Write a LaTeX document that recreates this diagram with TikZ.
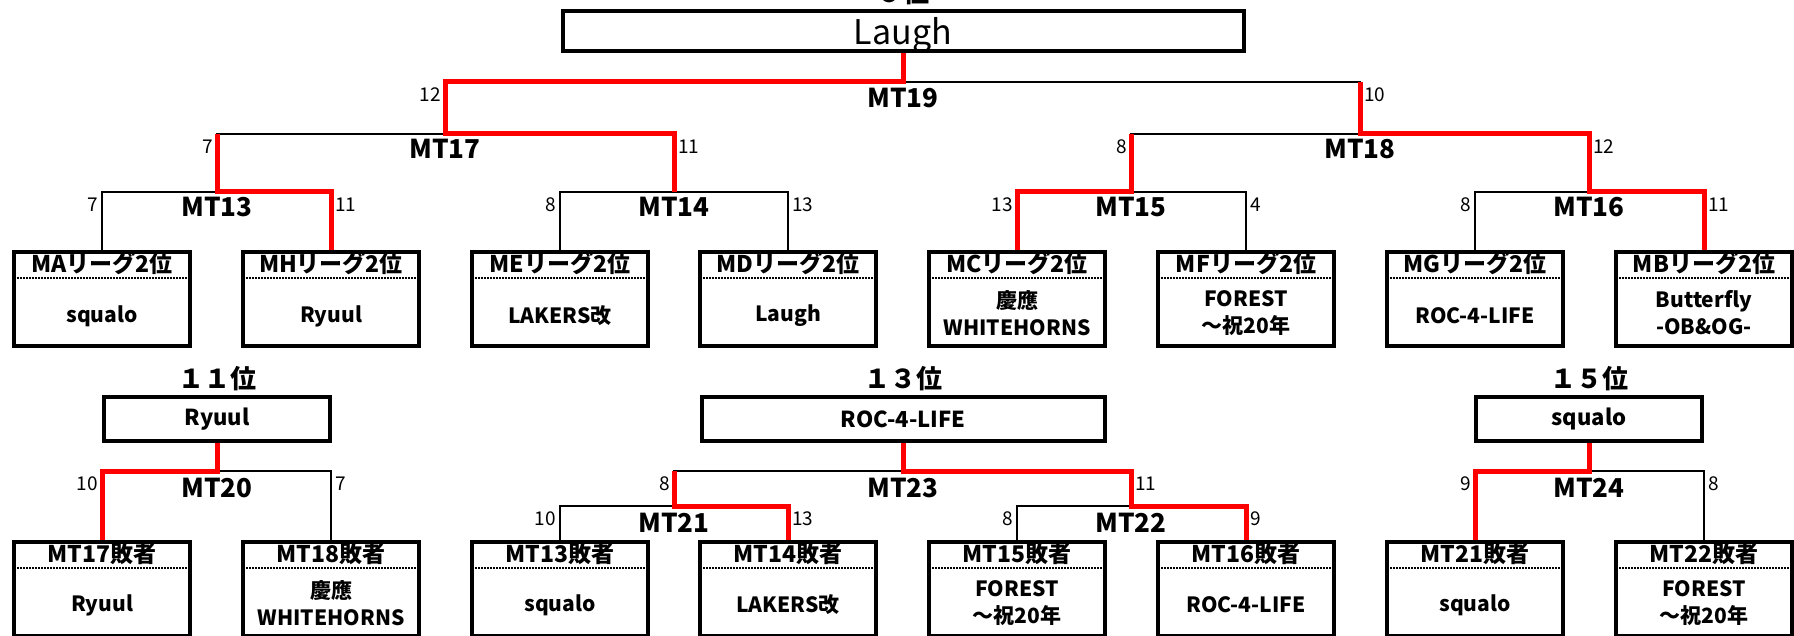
\documentclass[tikz,border=0pt]{standalone}
\usepackage{fontspec}
\setmainfont{Noto Sans CJK JP}
\begin{document}
\begin{tikzpicture}[x=1pt,y=-1pt,line join=miter,
    squadra/.style={draw,line width=4pt,minimum width=176pt,minimum height=94pt,inner sep=0pt,
      path picture={\draw[sep] ([yshift=-26pt]path picture bounding box.north west)
                              -- ([yshift=-26pt]path picture bounding box.north east);}},
    vinto/.style={draw,line width=4pt,minimum height=44pt,inner sep=0pt,
      font=\bfseries\fontsize{22}{26}\selectfont},
    sep/.style={line width=2pt,dash pattern=on 1.5pt off 1.5pt},
    testa/.style={inner sep=0pt,font=\bfseries\fontsize{23}{26}\selectfont},
    nome/.style={inner sep=0pt,align=center,font=\bfseries\fontsize{21}{27}\selectfont},
    riga/.style={line width=1.6pt},
    rosso/.style={line width=5pt,red},
    partita/.style={inner sep=0pt,font=\bfseries\fontsize{26}{30}\selectfont},
    punti/.style={inner sep=0pt,font=\fontsize{19}{22}\selectfont},
    posto/.style={inner sep=0pt,anchor=south,font=\bfseries\fontsize{26}{30}\selectfont}]

  \path[use as bounding box,clip] (0,0) rectangle (1794,636);

  % ======================= tabellone superiore ===================
  \node[posto] (p9) at (903,5) {９位};
  \node[draw,line width=4pt,minimum width=681pt,minimum height=40pt,inner sep=0pt,
        text depth=0pt,font=\fontsize{34}{40}\selectfont] (laugh) at (903,31) {Laugh};

  \coordinate (m19) at ( 903, 82);
  \coordinate (m17) at ( 445,134);
  \coordinate (m18) at (1360,134);
  \coordinate (m13) at ( 217,192);
  \coordinate (m14) at ( 674,192);
  \coordinate (m15) at (1131,192);
  \coordinate (m16) at (1589,192);

  % squadre del primo turno
  \node[squadra] (mA) at ( 102,299) {};
  \node[squadra] (mH) at ( 331,299) {};
  \node[squadra] (mE) at ( 560,299) {};
  \node[squadra] (mD) at ( 788,299) {};
  \node[squadra] (mC) at (1017,299) {};
  \node[squadra] (mF) at (1246,299) {};
  \node[squadra] (mG) at (1475,299) {};
  \node[squadra] (mB) at (1704,299) {};

  \node[testa] (mAh) at ( 102,264) {MAリーグ2位};
  \node[testa] (mHh) at ( 331,264) {MHリーグ2位};
  \node[testa] (mEh) at ( 560,264) {MEリーグ2位};
  \node[testa] (mDh) at ( 788,264) {MDリーグ2位};
  \node[testa] (mCh) at (1017,264) {MCリーグ2位};
  \node[testa] (mFh) at (1246,264) {MFリーグ2位};
  \node[testa] (mGh) at (1475,264) {MGリーグ2位};
  \node[testa] (mBh) at (1704,264) {MBリーグ2位};

  \node[nome] (mAn) at ( 102,316) {squalo};
  \node[nome] (mHn) at ( 331,316) {Ryuul};
  \node[nome] (mEn) at ( 560,316) {LAKERS改};
  \node[nome] (mDn) at ( 788,316) {Laugh};
  \node[nome] (mCn) at (1017,313) {慶應\\WHITEHORNS};
  \node[nome] (mFn) at (1246,313) {FOREST\\～祝20年};
  \node[nome] (mGn) at (1475,316) {ROC-4-LIFE};
  \node[nome] (mBn) at (1704,313) {Butterfly\\-OB\&OG-};

  % righe del tabellone
  \draw[riga] (mA.north) |- (m13) -| (mH.north);
  \draw[riga] (mE.north) |- (m14) -| (mD.north);
  \draw[riga] (mC.north) |- (m15) -| (mF.north);
  \draw[riga] (mG.north) |- (m16) -| (mB.north);
  \draw[riga] (m13) |- (m17) -| (m14);
  \draw[riga] (m15) |- (m18) -| (m16);
  \draw[riga] (m17) |- (m19) -| (m18);

  % vincitori
  \draw[rosso] (laugh.south) -- (m19) -| (m17) -| (m14);
  \draw[rosso] (m13 |- m17) -- (m13) -| (mH.north);
  \draw[rosso] (m18 |- m19) -- (m18) -| (m16) -| (mB.north);
  \draw[rosso] (m15 |- m18) -- (m15) -| (mC.north);

  \node[partita] (l19) at ( 903, 98) {MT19};
  \node[partita] (l17) at ( 445,149) {MT17};
  \node[partita] (l18) at (1360,149) {MT18};
  \node[partita] (l13) at ( 217,207) {MT13};
  \node[partita] (l14) at ( 674,207) {MT14};
  \node[partita] (l15) at (1131,207) {MT15};
  \node[partita] (l16) at (1589,207) {MT16};

  \node[punti,anchor=north east] (s19a) at ( 441, 88) {12};
  \node[punti,anchor=north west] (s19b) at (1364, 88) {10};
  \node[punti,anchor=north east] (s17a) at ( 213,140) {7};
  \node[punti,anchor=north west] (s17b) at ( 678,140) {11};
  \node[punti,anchor=north east] (s18a) at (1127,140) {8};
  \node[punti,anchor=north west] (s18b) at (1593,140) {12};
  \node[punti,anchor=north east] (s13a) at (  98,198) {7};
  \node[punti,anchor=north west] (s13b) at ( 335,198) {11};
  \node[punti,anchor=north east] (s14a) at ( 556,198) {8};
  \node[punti,anchor=north west] (s14b) at ( 792,198) {13};
  \node[punti,anchor=north east] (s15a) at (1013,198) {13};
  \node[punti,anchor=north west] (s15b) at (1250,198) {4};
  \node[punti,anchor=north east] (s16a) at (1471,198) {8};
  \node[punti,anchor=north west] (s16b) at (1708,198) {11};

  % ======================= tabelloni inferiori ===================
  \node[posto] (p11) at ( 217,391) {１１位};
  \node[posto] (p13) at ( 903,391) {１３位};
  \node[posto] (p15) at (1589,391) {１５位};

  \node[vinto,minimum width=226pt] (ryuul)  at ( 217,419) {Ryuul};
  \node[vinto,minimum width=403pt] (roc)    at ( 903,419) {ROC-4-LIFE};
  \node[vinto,minimum width=226pt] (squalo) at (1589,419) {squalo};

  \coordinate (m20) at ( 217,471);
  \coordinate (m23) at ( 903,471);
  \coordinate (m24) at (1589,471);
  \coordinate (m21) at ( 674,506);
  \coordinate (m22) at (1131,506);

  \node[squadra] (t17) at ( 102,589) {};
  \node[squadra] (t18) at ( 331,589) {};
  \node[squadra] (t13) at ( 560,589) {};
  \node[squadra] (t14) at ( 788,589) {};
  \node[squadra] (t15) at (1017,589) {};
  \node[squadra] (t16) at (1246,589) {};
  \node[squadra] (t21) at (1475,589) {};
  \node[squadra] (t22) at (1704,589) {};

  \node[testa] (t17h) at ( 102,554) {MT17敗者};
  \node[testa] (t18h) at ( 331,554) {MT18敗者};
  \node[testa] (t13h) at ( 560,554) {MT13敗者};
  \node[testa] (t14h) at ( 788,554) {MT14敗者};
  \node[testa] (t15h) at (1017,554) {MT15敗者};
  \node[testa] (t16h) at (1246,554) {MT16敗者};
  \node[testa] (t21h) at (1475,554) {MT21敗者};
  \node[testa] (t22h) at (1704,554) {MT22敗者};

  \node[nome] (t17n) at ( 102,605) {Ryuul};
  \node[nome] (t18n) at ( 331,603) {慶應\\WHITEHORNS};
  \node[nome] (t13n) at ( 560,605) {squalo};
  \node[nome] (t14n) at ( 788,605) {LAKERS改};
  \node[nome] (t15n) at (1017,603) {FOREST\\～祝20年};
  \node[nome] (t16n) at (1246,605) {ROC-4-LIFE};
  \node[nome] (t21n) at (1475,605) {squalo};
  \node[nome] (t22n) at (1704,603) {FOREST\\～祝20年};

  \draw[riga] (t17.north) |- (m20) -| (t18.north);
  \draw[riga] (t13.north) |- (m21) -| (t14.north);
  \draw[riga] (t15.north) |- (m22) -| (t16.north);
  \draw[riga] (m21) |- (m23) -| (m22);
  \draw[riga] (t21.north) |- (m24) -| (t22.north);

  \draw[rosso] (ryuul.south) -- (m20) -| (t17.north);
  \draw[rosso] (roc.south) -- (m23) -| (m22) -| (t16.north);
  \draw[rosso] (m21 |- m23) -- (m21) -| (t14.north);
  \draw[rosso] (squalo.south) -- (m24) -| (t21.north);

  \node[partita] (l20) at ( 217,488) {MT20};
  \node[partita] (l23) at ( 903,488) {MT23};
  \node[partita] (l24) at (1589,488) {MT24};
  \node[partita] (l21) at ( 674,523) {MT21};
  \node[partita] (l22) at (1131,523) {MT22};

  \node[punti,anchor=north east] (s20a) at (  98,477) {10};
  \node[punti,anchor=north west] (s20b) at ( 335,477) {7};
  \node[punti,anchor=north east] (s23a) at ( 670,477) {8};
  \node[punti,anchor=north west] (s23b) at (1135,477) {11};
  \node[punti,anchor=north east] (s21a) at ( 556,512) {10};
  \node[punti,anchor=north west] (s21b) at ( 792,512) {13};
  \node[punti,anchor=north east] (s22a) at (1013,512) {8};
  \node[punti,anchor=north west] (s22b) at (1250,512) {9};
  \node[punti,anchor=north east] (s24a) at (1471,477) {9};
  \node[punti,anchor=north west] (s24b) at (1708,477) {8};

\end{tikzpicture}
\end{document}
